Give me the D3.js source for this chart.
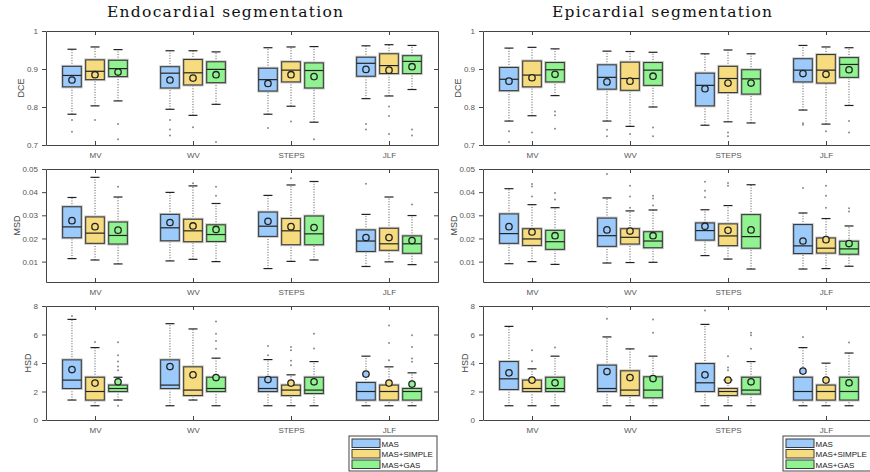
<!DOCTYPE html>
<html lang="en">
<head>
<meta charset="utf-8">
<title>Segmentation boxplots</title>
<script src="https://d3js.org/d3.v7.min.js"></script>
<style>
  body { margin: 0; background: #fff; }
  svg text { font-family: "Liberation Sans", Arial, sans-serif; }
</style>
</head>
<body>
<script>
// categories and series
const groups = ["MV", "WV", "STEPS", "JLF"];
const methods = ["MAS", "MAS+SIMPLE", "MAS+GAS"];
const colors = ["#9ccbfb", "#f6dc7f", "#90f290"];

// box stats per group, per method: [lowWhisker, q1, median, q3, highWhisker, mean]
const endoDCE = [
  [[0.781, 0.853, 0.883, 0.907, 0.952, 0.871], [0.803, 0.872, 0.894, 0.924, 0.958, 0.885], [0.816, 0.880, 0.901, 0.923, 0.951, 0.892]],
  [[0.794, 0.850, 0.889, 0.906, 0.948, 0.871], [0.778, 0.858, 0.890, 0.925, 0.948, 0.876], [0.807, 0.864, 0.899, 0.919, 0.945, 0.885]],
  [[0.781, 0.842, 0.872, 0.902, 0.956, 0.862], [0.802, 0.866, 0.897, 0.919, 0.958, 0.885], [0.760, 0.850, 0.896, 0.916, 0.959, 0.880]],
  [[0.822, 0.881, 0.915, 0.931, 0.961, 0.899], [0.829, 0.888, 0.909, 0.940, 0.964, 0.897], [0.846, 0.888, 0.920, 0.935, 0.962, 0.906]]
];
const endoDCEOut = [
  [[0.766, 0.735], [0.766], [0.755, 0.715]],
  [[0.766, 0.741, 0.725], [0.747], [0.708]],
  [[0.745], [0.762], [0.715]],
  [[0.755, 0.741], [0.801, 0.776, 0.729], [0.741, 0.725]]
];
const epiDCE = [
  [[0.763, 0.843, 0.873, 0.904, 0.955, 0.868], [0.777, 0.853, 0.884, 0.921, 0.957, 0.877], [0.830, 0.866, 0.898, 0.917, 0.953, 0.886]],
  [[0.763, 0.847, 0.878, 0.911, 0.947, 0.866], [0.749, 0.844, 0.875, 0.918, 0.946, 0.868], [0.800, 0.857, 0.897, 0.917, 0.944, 0.881]],
  [[0.752, 0.803, 0.857, 0.889, 0.940, 0.848], [0.761, 0.838, 0.875, 0.907, 0.950, 0.863], [0.758, 0.834, 0.874, 0.898, 0.940, 0.863]],
  [[0.792, 0.866, 0.897, 0.927, 0.962, 0.888], [0.755, 0.863, 0.897, 0.938, 0.958, 0.886], [0.804, 0.878, 0.912, 0.930, 0.956, 0.898]]
];
const epiDCEOut = [
  [[0.736, 0.708], [0.733], [0.788, 0.778, 0.743]],
  [[0.740, 0.723], [0.729], [0.746, 0.723]],
  [[], [0.733, 0.723], []],
  [[0.757, 0.753], [0.736], [0.763, 0.733]]
];
const endoMSD = [
  [[0.0113, 0.0203, 0.0250, 0.0337, 0.0377, 0.0277], [0.0107, 0.0179, 0.0223, 0.0293, 0.0464, 0.0251], [0.0090, 0.0176, 0.0213, 0.0271, 0.0379, 0.0236]],
  [[0.0103, 0.0190, 0.0246, 0.0304, 0.0399, 0.0269], [0.0110, 0.0186, 0.0233, 0.0283, 0.0427, 0.0254], [0.0100, 0.0187, 0.0217, 0.0259, 0.0351, 0.0239]],
  [[0.0070, 0.0209, 0.0253, 0.0314, 0.0386, 0.0274], [0.0101, 0.0173, 0.0233, 0.0286, 0.0431, 0.0251], [0.0107, 0.0173, 0.0220, 0.0297, 0.0446, 0.0247]],
  [[0.0079, 0.0144, 0.0189, 0.0237, 0.0304, 0.0204], [0.0099, 0.0149, 0.0177, 0.0244, 0.0379, 0.0204], [0.0087, 0.0136, 0.0177, 0.0211, 0.0299, 0.0191]]
];
const endoMSDOut = [
  [[], [], [0.0423]],
  [[], [0.0439], [0.0423, 0.0384]],
  [[], [0.0460], []],
  [[0.0436], [], [0.0347]]
];
const epiMSD = [
  [[0.0091, 0.0179, 0.0221, 0.0306, 0.0415, 0.0251], [0.0100, 0.0170, 0.0198, 0.0242, 0.0346, 0.0228], [0.0088, 0.0153, 0.0186, 0.0235, 0.0333, 0.0212]],
  [[0.0094, 0.0166, 0.0212, 0.0288, 0.0375, 0.0237], [0.0096, 0.0176, 0.0205, 0.0242, 0.0319, 0.0232], [0.0097, 0.0160, 0.0189, 0.0229, 0.0323, 0.0212]],
  [[0.0126, 0.0193, 0.0234, 0.0267, 0.0324, 0.0253], [0.0111, 0.0169, 0.0211, 0.0263, 0.0342, 0.0235], [0.0068, 0.0158, 0.0208, 0.0303, 0.0432, 0.0237]],
  [[0.0068, 0.0135, 0.0168, 0.0260, 0.0310, 0.0189], [0.0070, 0.0137, 0.0158, 0.0202, 0.0286, 0.0195], [0.0080, 0.0132, 0.0155, 0.0188, 0.0254, 0.0178]]
];
const epiMSDOut = [
  [[], [0.0435, 0.0424, 0.0381], [0.0396, 0.0368]],
  [[0.0478], [0.0428, 0.0381, 0.0333], [0.0385, 0.0373, 0.0342]],
  [[0.0445, 0.0406, 0.0378], [0.0440, 0.0428], []],
  [[0.0418], [0.0428, 0.0385, 0.0333], [0.0330, 0.0316]]
];
const endoHSD = [
  [[1.4, 2.21, 2.8, 4.22, 7.06, 3.54], [1.0, 1.4, 2.0, 3.0, 5.08, 2.59], [1.4, 2.0, 2.21, 2.45, 3.0, 2.68]],
  [[1.0, 2.21, 2.45, 4.22, 6.76, 3.75], [1.4, 1.72, 2.1, 3.73, 6.39, 3.17], [1.0, 2.0, 2.21, 3.0, 4.34, 2.98]],
  [[1.0, 2.0, 2.21, 3.0, 4.24, 2.84], [1.0, 1.72, 2.1, 2.45, 3.17, 2.59], [1.0, 1.86, 2.1, 3.0, 4.1, 2.68]],
  [[1.0, 1.4, 2.0, 2.63, 4.48, 3.22], [1.0, 1.4, 2.0, 2.45, 3.73, 2.59], [1.0, 1.4, 2.0, 2.21, 3.31, 2.52]]
];
const endoHSDOut = [
  [[7.3], [5.48], [5.45, 4.55, 4.1, 3.75, 3.5, 1.0]],
  [[], [], [6.92, 6.06, 5.55, 5.0]],
  [[5.2, 4.55], [5.13, 4.9, 4.15, 3.85], [6.06, 5.01]],
  [[], [6.64, 5.41, 4.2], [5.94, 5.13, 4.31, 4.08]]
];
const epiHSD = [
  [[1.0, 2.14, 2.89, 4.1, 6.57, 3.31], [1.0, 2.0, 2.21, 2.8, 3.59, 2.8], [1.0, 2.0, 2.21, 3.0, 4.48, 2.61]],
  [[1.0, 2.0, 2.21, 3.85, 5.83, 3.4], [1.0, 1.72, 2.1, 3.45, 4.99, 2.98], [1.0, 1.56, 2.1, 3.03, 4.48, 2.91]],
  [[1.0, 2.0, 2.61, 3.96, 6.71, 3.17], [1.0, 1.72, 2.0, 2.21, 2.8, 2.8], [1.0, 1.82, 2.1, 3.0, 4.1, 2.68]],
  [[1.0, 1.4, 2.0, 3.0, 5.08, 3.43], [1.0, 1.4, 2.0, 2.45, 3.99, 2.8], [1.0, 1.4, 2.0, 3.0, 4.7, 2.61]]
];
const epiHSDOut = [
  [[], [4.9, 4.13], [5.08]],
  [[7.93, 7.1], [], [7.06, 6.13]],
  [[7.69], [4.48, 3.68, 3.5], [6.13, 5.94, 5.0]],
  [[5.83], [], [5.43]]
];

// y axes
const metrics = ["DCE", "MSD", "HSD"];
const dceTicks = [0.7, 0.8, 0.9, 1];
const msdTicks = [0.01, 0.02, 0.03, 0.04, 0.05];
const hsdTicks = [0, 2, 4, 6, 8];
const titles = ["Endocardial segmentation", "Epicardial segmentation"];

const width = 870, height = 472;
const colX = [46, 483], plotW = 392;
const rowTop = [31, 169, 306], rowBot = [145, 282, 420];
const yDomains = [[0.7, 1], [0.0012, 0.05], [0, 8]];
const yTicks = [dceTicks, msdTicks, hsdTicks];
const offsets = [-0.235, 0, 0.235];
const boxW = 0.19;

const svg = d3.select("body").append("svg")
  .attr("width", width).attr("height", height);

const panels = [
  [endoDCE, endoDCEOut, epiDCE, epiDCEOut],
  [endoMSD, endoMSDOut, epiMSD, epiMSDOut],
  [endoHSD, endoHSDOut, epiHSD, epiHSDOut]
];

// titles
svg.selectAll(".title").data(titles).enter().append("text")
  .attr("x", (d, i) => [225, 662][i])
  .attr("y", 17)
  .attr("text-anchor", "middle")
  .attr("textLength", (d, i) => [236, 220][i])
  .attr("lengthAdjust", "spacing")
  .style("font-family", "'DejaVu Serif', 'Liberation Serif', serif")
  .style("font-size", "15.5px")
  .attr("fill", "#111")
  .text(d => d);

const fmt = d3.format("~g");
const axisCol = "#444";

for (let c = 0; c < 2; c++) {
  for (let r = 0; r < 3; r++) {
    const stats = panels[r][c * 2];
    const outs = panels[r][c * 2 + 1];
    const x = d3.scaleLinear().domain([0.5, 4.5]).range([colX[c], colX[c] + plotW]);
    const y = d3.scaleLinear().domain(yDomains[r]).range([rowBot[r], rowTop[r]]);
    const g = svg.append("g");

    // axes (frame with ticks)
    const left = g.append("g").attr("transform", `translate(${colX[c]},0)`)
      .call(d3.axisLeft(y).tickValues(yTicks[r]).tickFormat(fmt).tickSize(4).tickSizeOuter(0).tickPadding(4));
    g.append("g").attr("transform", `translate(${colX[c] + plotW},0)`)
      .call(d3.axisRight(y).tickValues(yTicks[r]).tickFormat("").tickSize(-4).tickSizeOuter(0));
    g.append("g").attr("transform", `translate(0,${rowBot[r]})`)
      .call(d3.axisBottom(x).tickValues([1, 2, 3, 4]).tickFormat((d, i) => groups[i]).tickSize(-4).tickSizeOuter(0).tickPadding(7));
    g.append("g").attr("transform", `translate(0,${rowTop[r]})`)
      .call(d3.axisTop(x).tickValues([1, 2, 3, 4]).tickFormat("").tickSize(-4).tickSizeOuter(0));
    g.selectAll(".domain, .tick line").attr("stroke", axisCol).attr("stroke-width", 1);
    g.selectAll(".tick text").attr("fill", "#555").style("font-size", "8px");

    // y label placed left of the widest tick label
    let minX = Infinity;
    left.selectAll(".tick text").each(function () {
      const b = this.getBBox();
      const m = this.parentNode.getCTM();
      minX = Math.min(minX, b.x + m.e);
    });
    g.append("text")
      .attr("transform", `translate(${minX - 6},${(rowTop[r] + rowBot[r]) / 2}) rotate(-90)`)
      .attr("dy", "0.35em")
      .attr("text-anchor", "middle")
      .attr("fill", "#444")
      .style("font-size", "9px")
      .text(metrics[r]);

    // boxes
    stats.forEach((grp, gi) => {
      grp.forEach((s, mi) => {
        const cx = gi + 1 + offsets[mi];
        const x0 = x(cx - boxW / 2), x1 = x(cx + boxW / 2), xc = x(cx);
        const capW = 4.5;
        const b = g.append("g");
        // whiskers
        b.selectAll("line.wh").data([[s[0], s[1]], [s[3], s[4]]]).enter().append("line")
          .attr("x1", xc).attr("x2", xc)
          .attr("y1", d => y(d[0])).attr("y2", d => y(d[1]))
          .attr("stroke", "#555").attr("stroke-width", 1).attr("stroke-dasharray", "1,1.6");
        b.selectAll("line.cap").data([s[0], s[4]]).enter().append("line")
          .attr("x1", xc - capW).attr("x2", xc + capW)
          .attr("y1", d => y(d)).attr("y2", d => y(d))
          .attr("stroke", "#222").attr("stroke-width", 1.2);
        // halo + box
        b.append("rect")
          .attr("x", x0).attr("y", y(s[3])).attr("width", x1 - x0).attr("height", y(s[1]) - y(s[3]))
          .attr("fill", "none").attr("stroke", "#c8c8c8").attr("stroke-width", 3);
        b.append("rect")
          .attr("x", x0).attr("y", y(s[3])).attr("width", x1 - x0).attr("height", y(s[1]) - y(s[3]))
          .attr("fill", colors[mi]).attr("stroke", "#3a3a3a").attr("stroke-width", 1.1);
        // median
        b.append("line")
          .attr("x1", x0).attr("x2", x1).attr("y1", y(s[2])).attr("y2", y(s[2]))
          .attr("stroke", "#222").attr("stroke-width", 1.2);
        // outliers
        b.selectAll("circle.out").data(outs[gi][mi]).enter().append("circle")
          .attr("cx", xc).attr("cy", d => y(d)).attr("r", 1)
          .attr("fill", "#8a8a8a");
        // mean
        b.append("circle")
          .attr("cx", xc).attr("cy", y(s[5])).attr("r", 3.2)
          .attr("fill", colors[mi]).attr("stroke", "#222").attr("stroke-width", 1.3);
      });
    });
  }
}

// legends
const legX = [349, 783];
legX.forEach(lx => {
  const lg = svg.append("g").attr("transform", `translate(${lx},436)`);
  lg.append("rect").attr("width", 88).attr("height", 35)
    .attr("fill", "#fff").attr("stroke", "#444").attr("stroke-width", 1);
  methods.forEach((m, i) => {
    lg.append("rect").attr("x", 3).attr("y", 3 + i * 10.5).attr("width", 28).attr("height", 8.5)
      .attr("fill", colors[i]).attr("stroke", "#3a3a3a").attr("stroke-width", 1);
    lg.append("text").attr("x", 32.5).attr("y", 10.5 + i * 10.5)
      .attr("fill", "#222").style("font-size", "8px").text(m);
  });
});
</script>
</body>
</html>
